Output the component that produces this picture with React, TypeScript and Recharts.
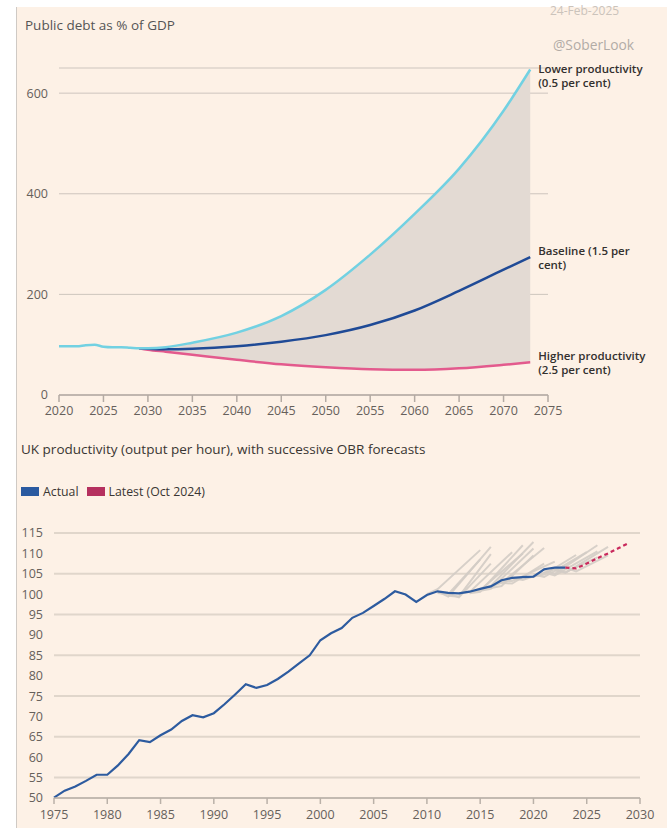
import React from 'react';
import {
  ComposedChart,
  LineChart,
  Line,
  Area,
  XAxis,
  YAxis,
  CartesianGrid,
  LabelList,
} from 'recharts';

// Public debt as % of GDP
const histYears = [2020, 2021, 2022, 2023, 2024, 2025, 2026, 2027, 2028];
const histDebt = [97, 97, 97, 99, 100, 96, 95, 95, 94];

const projYears = [2029, 2030, 2032, 2035, 2040, 2045, 2050, 2055, 2060, 2065, 2070, 2073];
const lowerProd = [93, 93, 95, 104, 124, 157, 209, 279, 360, 450, 565, 647];
const baselineProd = [93, 92, 91, 92, 97, 106, 119, 139, 168, 207, 249, 274];
const higherProd = [93, 90, 86, 80, 70, 61, 55, 51, 50, 53, 60, 65];

const debtYearTicks = [2020, 2025, 2030, 2035, 2040, 2045, 2050, 2055, 2060, 2065, 2070, 2075];
const debtTicks = [0, 200, 400, 600];

// UK productivity (output per hour)
const prodYears = [
  1975, 1976, 1977, 1978, 1979, 1980, 1981, 1982, 1983, 1984, 1985, 1986, 1987, 1988, 1989,
  1990, 1991, 1992, 1993, 1994, 1995, 1996, 1997, 1998, 1999, 2000, 2001, 2002, 2003, 2004,
  2005, 2006, 2007, 2008, 2009, 2010, 2011, 2012, 2013, 2014, 2015, 2016, 2017, 2018, 2019,
  2020, 2021, 2022, 2023,
];
const actualProd = [
  50.1, 51.8, 52.8, 54.2, 55.7, 55.7, 58.0, 60.8, 64.2, 63.7, 65.4, 66.8, 68.9, 70.3, 69.8,
  70.8, 73.0, 75.4, 77.9, 77.0, 77.7, 79.2, 81.0, 83.0, 85.0, 88.7, 90.4, 91.7, 94.2, 95.4,
  97.1, 98.8, 100.7, 99.9, 98.1, 99.8, 100.7, 100.3, 100.2, 100.6, 101.3, 101.9, 103.4, 104.0, 104.2,
  104.3, 106.1, 106.5, 106.5,
];
const latestYears = [2023, 2024, 2025, 2026, 2027, 2028, 2029];
const latestProd = [106.5, 106.3, 107.5, 108.8, 110.0, 111.3, 112.6];

// successive OBR forecasts: [year, value] points
const obrForecasts: [number, number][][] = [
  [[2010, 100.0], [2011, 101.2], [2015, 110.8]],
  [[2011, 100.7], [2012, 99.4], [2016, 111.6]],
  [[2011, 100.3], [2012, 100.0], [2015, 108.5]],
  [[2012, 100.2], [2013, 99.2], [2016, 107.5]],
  [[2012, 99.6], [2013, 99.4], [2016, 109.8]],
  [[2013, 100.2], [2014, 100.5], [2018, 110.3]],
  [[2014, 100.6], [2015, 101.0], [2019, 110.0]],
  [[2014, 100.2], [2015, 100.6], [2019, 112.0]],
  [[2015, 101.2], [2016, 102.0], [2020, 112.8]],
  [[2015, 100.8], [2016, 101.3], [2020, 111.2]],
  [[2016, 101.9], [2017, 102.8], [2021, 111.3]],
  [[2016, 101.5], [2017, 102.0], [2020, 109.5]],
  [[2017, 103.3], [2018, 103.2], [2022, 108.0]],
  [[2017, 102.8], [2018, 102.6], [2021, 107.5]],
  [[2018, 103.9], [2019, 103.5], [2023, 107.0]],
  [[2020, 104.3], [2021, 104.8], [2024, 109.6]],
  [[2020, 104.8], [2021, 104.2], [2025, 110.3]],
  [[2021, 106.0], [2022, 105.0], [2026, 112.0]],
  [[2021, 105.3], [2022, 104.6], [2026, 110.5]],
  [[2022, 106.3], [2023, 105.2], [2027, 111.6]],
  [[2022, 105.8], [2023, 105.4], [2026, 109.0]],
  [[2023, 106.5], [2024, 105.6], [2027, 109.5]],
];

const prodYearTicks = [1975, 1980, 1985, 1990, 1995, 2000, 2005, 2010, 2015, 2020, 2025, 2030];
const prodTicks = [50, 55, 60, 65, 70, 75, 80, 85, 90, 95, 100, 105, 110, 115];

const FONT = '"Open Sans", sans-serif';
const TICK = { fill: '#66605b', fontSize: 12.5, fontFamily: FONT };

const debtData = [
  ...histYears.map((year, i) => ({ year, lower: histDebt[i] })),
  ...projYears.map((year, i) => ({
    year,
    lower: lowerProd[i],
    baseline: baselineProd[i],
    higher: higherProd[i],
    band: i === 0 ? undefined : [higherProd[i], lowerProd[i]],
  })),
];

const prodData = [
  ...prodYears.map((year, i) => ({
    year,
    actual: actualProd[i],
    latest: year === latestYears[0] ? latestProd[0] : undefined,
  })),
  ...latestYears.slice(1).map((year, i) => ({ year, latest: latestProd[i + 1] })),
];

// two-line label at the end of a projection line
const endLabel = (lines: string[], lastIndex: number, dy: number) => (props: any) => {
  const { x, y, index } = props;
  if (index !== lastIndex) return null;
  const top = y + dy - ((lines.length - 1) * 14) / 2;
  return (
    <g>
      {lines.map((l, k) => (
        <text
          key={k}
          x={x + 8}
          y={top + k * 14}
          fill="#33302e"
          fontSize={11.5}
          fontWeight={600}
          fontFamily={FONT}
          dominantBaseline="central"
        >
          {l}
        </text>
      ))}
    </g>
  );
};

const lastIdx = debtData.length - 1;

export default function App() {
  return (
    <div
      style={{
        position: 'absolute',
        left: 0,
        top: 0,
        width: 672,
        height: 838,
        background: '#fff',
        fontFamily: FONT,
      }}
    >
      <div
        style={{
          position: 'absolute',
          left: 16,
          top: 7,
          width: 650,
          height: 821,
          background: '#fdf1e6',
          borderLeft: '1px solid #cfcac5',
        }}
      />

      <div style={{ position: 'absolute', left: 0, top: 0 }}>
        <ComposedChart
          width={672}
          height={430}
          data={debtData}
          margin={{ top: 68, right: 124, bottom: 0, left: 0 }}
        >
          <CartesianGrid vertical={false} stroke="#cdc5be" />
          <XAxis
            dataKey="year"
            type="number"
            domain={[2020, 2075]}
            ticks={debtYearTicks}
            height={35}
            stroke="#b3aaa3"
            strokeWidth={1.5}
            tickSize={7}
            tickMargin={4}
            tick={TICK}
          />
          <YAxis
            type="number"
            domain={[0, 650]}
            ticks={debtTicks}
            width={59}
            axisLine={false}
            tickLine={false}
            tickSize={0}
            tickMargin={11}
            tick={TICK}
          />
          <Area
            dataKey="band"
            type="monotone"
            fill="#e3dad3"
            fillOpacity={1}
            stroke="none"
            isAnimationActive={false}
          />
          <Line
            dataKey="higher"
            type="monotone"
            stroke="#e35a8d"
            strokeWidth={2.5}
            dot={false}
            isAnimationActive={false}
          >
            <LabelList content={endLabel(['Higher productivity', '(2.5 per cent)'], lastIdx, 0)} />
          </Line>
          <Line
            dataKey="baseline"
            type="monotone"
            stroke="#1f4a96"
            strokeWidth={2.5}
            dot={false}
            isAnimationActive={false}
          >
            <LabelList content={endLabel(['Baseline (1.5 per', 'cent)'], lastIdx, 0)} />
          </Line>
          <Line
            dataKey="lower"
            type="monotone"
            stroke="#72d1e2"
            strokeWidth={2.5}
            dot={false}
            isAnimationActive={false}
          >
            <LabelList content={endLabel(['Lower productivity', '(0.5 per cent)'], lastIdx, 6)} />
          </Line>
        </ComposedChart>
      </div>

      <div style={{ position: 'absolute', left: 0, top: 430 }}>
        <LineChart
          width={672}
          height={408}
          data={prodData}
          margin={{ top: 103, right: 32, bottom: 0, left: 0 }}
        >
          <CartesianGrid vertical={false} stroke="#e0d6cb" strokeWidth={2} />
          <XAxis
            dataKey="year"
            type="number"
            domain={[1975, 2030]}
            ticks={prodYearTicks}
            height={40}
            stroke="#bab1a8"
            strokeWidth={1.5}
            tickSize={6}
            tickMargin={6}
            tick={TICK}
          />
          <YAxis
            type="number"
            domain={[50, 115]}
            ticks={prodTicks}
            width={54}
            axisLine={false}
            tickLine={false}
            tickSize={0}
            tickMargin={11}
            tick={TICK}
          />
          {obrForecasts.map((pts, k) => (
            <Line
              key={k}
              data={pts.map(([year, v]) => ({ year, v }))}
              dataKey="v"
              type="linear"
              stroke="#d3ccc5"
              strokeOpacity={0.9}
              strokeWidth={2}
              dot={false}
              isAnimationActive={false}
            />
          ))}
          <Line
            dataKey="actual"
            type="linear"
            stroke="#2d5b9f"
            strokeWidth={2.2}
            dot={false}
            isAnimationActive={false}
          />
          <Line
            dataKey="latest"
            type="linear"
            stroke="#c9295c"
            strokeWidth={2.2}
            strokeDasharray="4 3"
            dot={false}
            isAnimationActive={false}
          />
        </LineChart>
      </div>

      <div style={{ position: 'absolute', left: 25, top: 16, fontSize: 13.5, color: '#555' }}>
        Public debt as % of GDP
      </div>
      <div style={{ position: 'absolute', left: 550, top: 2, fontSize: 12, color: '#cbc3bb' }}>
        24-Feb-2025
      </div>
      <div style={{ position: 'absolute', left: 553, top: 35, fontSize: 13.8, color: '#b2aca6' }}>
        @SoberLook
      </div>
      <div style={{ position: 'absolute', left: 21, top: 440, fontSize: 13.5, color: '#3a3633' }}>
        UK productivity (output per hour), with successive OBR forecasts
      </div>
      <div
        style={{
          position: 'absolute',
          left: 21,
          top: 483,
          display: 'flex',
          alignItems: 'center',
          fontSize: 12.3,
          color: '#3a3633',
        }}
      >
        <span style={{ width: 18, height: 9, background: '#2a5aa0', marginRight: 4 }} />
        <span style={{ marginRight: 8 }}>Actual</span>
        <span style={{ width: 18, height: 9, background: '#b5305f', marginRight: 4 }} />
        <span>Latest (Oct 2024)</span>
      </div>
    </div>
  );
}
